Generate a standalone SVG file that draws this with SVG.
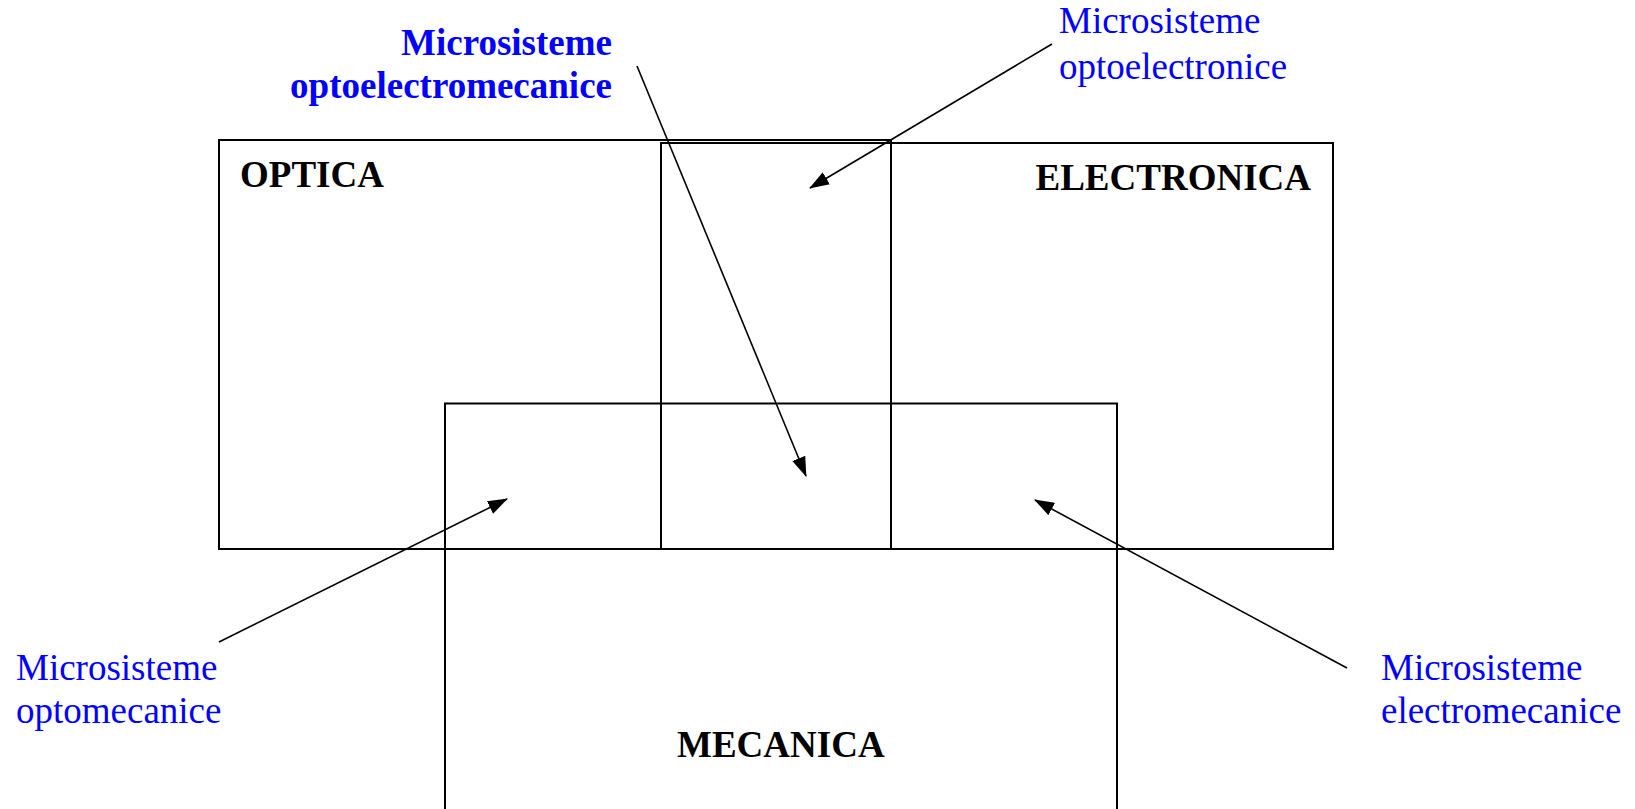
<svg xmlns="http://www.w3.org/2000/svg" width="1635" height="809" viewBox="0 0 1635 809">
<style>
.box{fill:none;stroke:#000;stroke-width:2}
.title{font-family:"Liberation Serif",serif;font-weight:bold;font-size:37px;fill:#000}
.lbl{font-family:"Liberation Serif",serif;font-size:37px;fill:#0000ff}
.lblb{font-family:"Liberation Serif",serif;font-size:37px;font-weight:bold;fill:#0000ff}
.conn{stroke:#000;stroke-width:1.6;fill:none;marker-end:url(#ah)}
</style>
<defs>
<marker id="ah" markerWidth="20" markerHeight="14" refX="19" refY="7" orient="auto" markerUnits="userSpaceOnUse">
<path d="M0,0 L20,7 L0,14 Z" fill="#000"/>
</marker>
</defs>
<rect x="0" y="0" width="1635" height="809" fill="#fff"/>
<g id="optica">
<rect class="box" x="219" y="140" width="672" height="409"/>
<text class="title" x="240" y="187">OPTICA</text>
</g>
<g id="electronica">
<rect class="box" x="661" y="143" width="672" height="406"/>
<text class="title" x="1311" y="190" text-anchor="end">ELECTRONICA</text>
</g>
<g id="mecanica">
<path class="box" d="M445,820 L445,403.5 L1117,403.5 L1117,820"/>
<text class="title" x="677" y="757">MECANICA</text>
</g>
<g id="label-optoelectromecanice">
<text class="lblb" x="612" y="55" text-anchor="end">Microsisteme</text>
<text class="lblb" x="612" y="98" text-anchor="end">optoelectromecanice</text>
</g>
<g id="label-optoelectronice">
<text class="lbl" x="1059" y="33">Microsisteme</text>
<text class="lbl" x="1059" y="79">optoelectronice</text>
</g>
<g id="label-optomecanice">
<text class="lbl" x="16" y="680">Microsisteme</text>
<text class="lbl" x="16" y="723">optomecanice</text>
</g>
<g id="label-electromecanice">
<text class="lbl" x="1381" y="680">Microsisteme</text>
<text class="lbl" x="1381" y="723">electromecanice</text>
</g>
<g id="connectors">
<line class="conn" x1="637" y1="66" x2="806" y2="476"/>
<line class="conn" x1="1052" y1="44" x2="810" y2="188"/>
<line class="conn" x1="219" y1="642" x2="507" y2="499"/>
<line class="conn" x1="1347" y1="668" x2="1035" y2="500"/>
</g>
</svg>
